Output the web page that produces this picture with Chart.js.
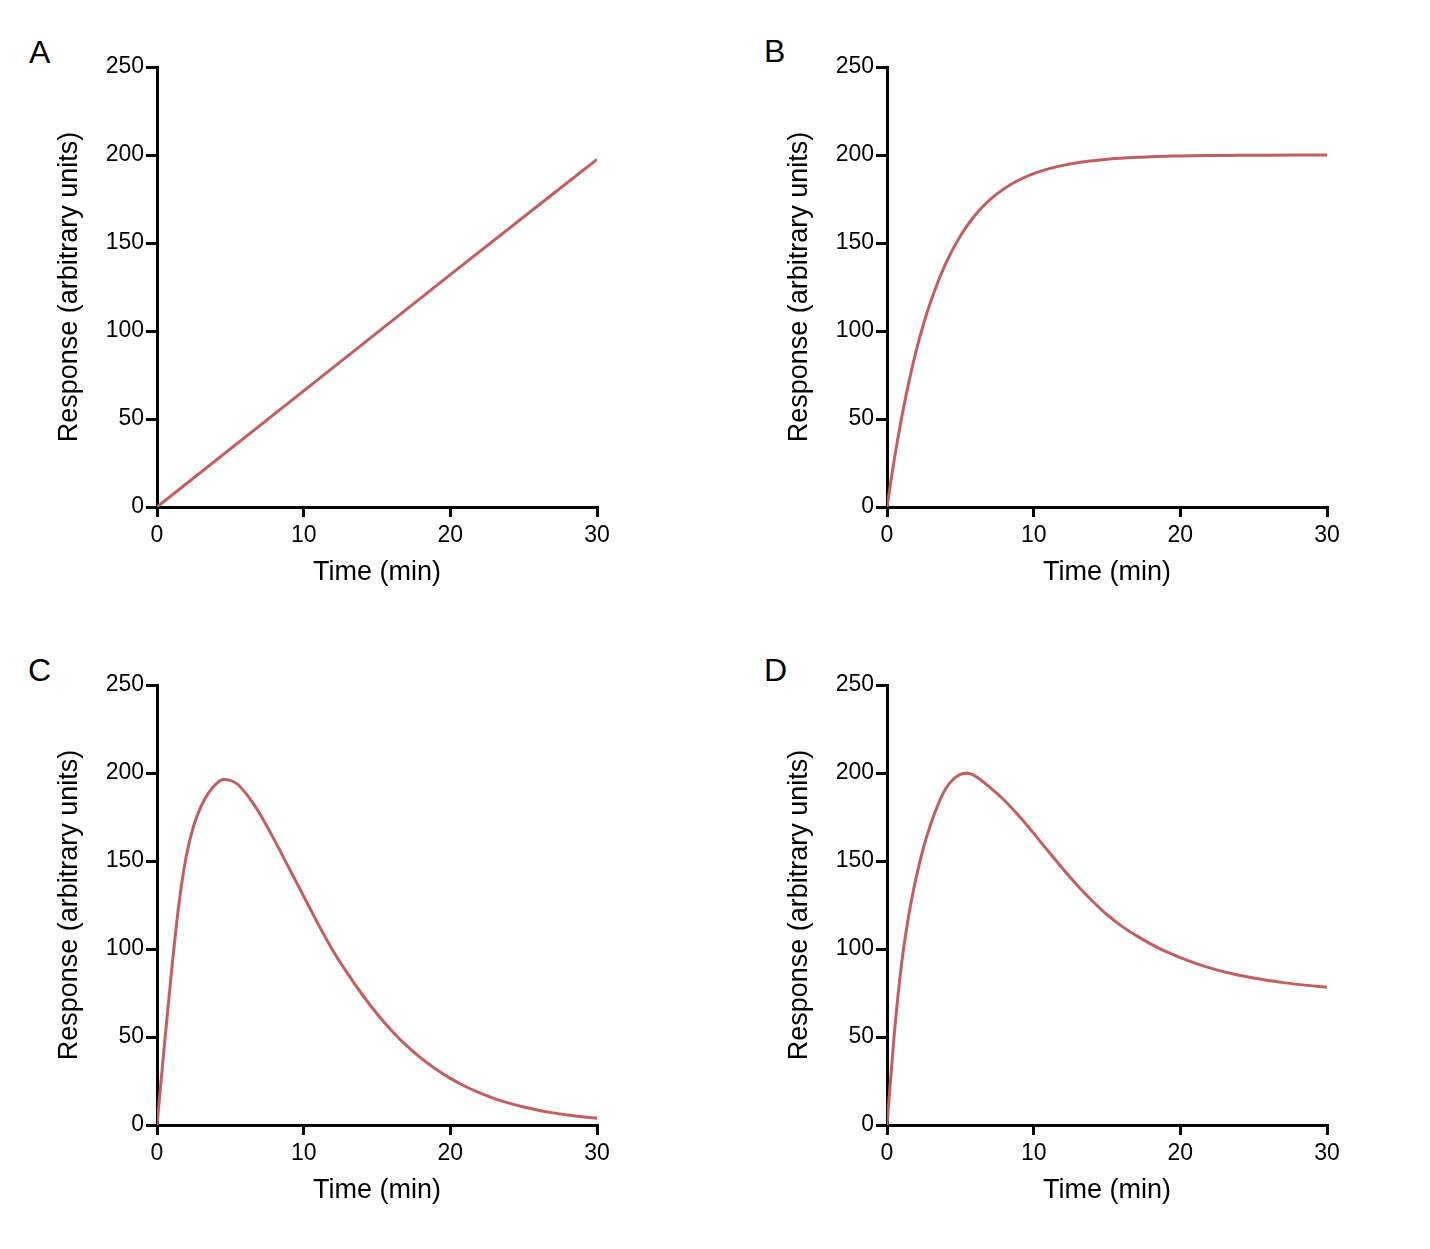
<!DOCTYPE html>
<html><head><meta charset="utf-8">
<script src="https://cdn.jsdelivr.net/npm/chart.js@4.4.1/dist/chart.umd.min.js"></script>
<style>
html,body{margin:0;padding:0;background:#fff;}
body{width:1430px;height:1249px;position:relative;overflow:hidden;font-family:"Liberation Sans",Arial,sans-serif;}
canvas{position:absolute;}
.lbl{position:absolute;font-size:32px;line-height:32px;color:#000;}
</style></head><body>
<div class="lbl" style="left:29px;top:36px;">A</div>
<div class="lbl" style="left:764px;top:35px;">B</div>
<div class="lbl" style="left:28px;top:654px;">C</div>
<div class="lbl" style="left:764px;top:654px;">D</div>
<canvas id="cA" width="715" height="620" style="left:0px;top:0px;width:715px;height:620px;"></canvas>
<canvas id="cB" width="715" height="620" style="left:730px;top:0px;width:715px;height:620px;"></canvas>
<canvas id="cC" width="715" height="620" style="left:0px;top:618px;width:715px;height:620px;"></canvas>
<canvas id="cD" width="715" height="620" style="left:730px;top:618px;width:715px;height:620px;"></canvas>
<script>
// ---- data ----
const xTicks = [0, 10, 20, 30];
const yTicks = [0, 50, 100, 150, 200, 250];
const xTitle = 'Time (min)';
const yTitle = 'Response (arbitrary units)';

const timeA = [0, 10, 20, 30];
const responseA = [0, 66, 132, 197.5];

const timeB = [0, 0.5, 1, 1.5, 2, 2.5, 3, 4, 5, 6, 7, 8, 9, 10, 11, 12, 13, 14, 15, 16, 17, 18, 19, 20, 22, 24, 26, 28, 30];
const responseB = [0, 27.2, 50.9, 71.4, 89.1, 104.2, 117.2, 138.3, 154.0, 165.8, 174.5, 181.0, 185.8, 189.4, 192.1, 194.1, 195.6, 196.7, 197.6, 198.2, 198.7, 199.0, 199.3, 199.4, 199.7, 199.8, 199.9, 199.95, 200];

const timeC = [0, 0.5, 1, 1.5, 2, 2.5, 3, 3.5, 4, 4.5, 5, 5.5, 6, 6.5, 7, 8, 9, 10, 11, 12, 13, 14, 15, 16, 17, 18, 19, 20, 21, 22, 23, 24, 25, 26, 27, 28, 29, 30];
const responseC = [0, 45, 88, 126, 153, 170, 181, 188.5, 193.5, 196.3, 195.8, 193.5, 189, 183.5, 177, 162, 146, 130, 114, 99, 86, 74, 63.2, 53.6, 45.2, 38, 31.8, 26.5, 22, 18.2, 15, 12.4, 10.2, 8.4, 6.9, 5.7, 4.7, 3.9];

const timeD = [0, 0.5, 1, 1.5, 2, 2.5, 3, 3.5, 4, 4.5, 5, 5.5, 6, 7, 8, 9, 10, 11, 12, 13, 14, 15, 16, 17, 18, 19, 20, 21, 22, 23, 24, 25, 26, 27, 28, 29, 30];
const responseD = [0, 52, 92, 120, 141, 158, 171.5, 182.5, 191, 196.3, 199.2, 199.8, 198.3, 192, 184.5, 175.5, 165.7, 155.5, 145.5, 136, 127.3, 119.5, 113, 107.6, 102.8, 98.6, 95.1, 92, 89.3, 87, 85.1, 83.5, 82.1, 80.9, 79.9, 79.05, 78.3];

// ---- styling ----
const LINE_COLOR = '#c45e5e';
Chart.defaults.font.family = "'Liberation Sans', Arial, sans-serif";
Chart.defaults.color = '#000';

function makeChart(id, xs, ys) {
  const pts = xs.map((x, i) => ({x: x, y: ys[i]}));
  return new Chart(document.getElementById(id), {
    type: 'line',
    data: { datasets: [{ data: pts, borderColor: LINE_COLOR, borderWidth: 3, pointRadius: 0, fill: false, cubicInterpolationMode: 'monotone' }] },
    options: {
      responsive: false, animation: false, devicePixelRatio: 1,
      layout: { padding: { top: 67, right: 118, bottom: 0, left: 0 } },
      plugins: { legend: { display: false }, tooltip: { enabled: false } },
      scales: {
        x: {
          type: 'linear', min: xTicks[0], max: xTicks[xTicks.length - 1],
          afterBuildTicks: s => { s.ticks = xTicks.map(v => ({value: v})); },
          afterFit: s => { s.height = 113; },
          ticks: { font: { size: 23 }, color: '#000', padding: 5, maxRotation: 0 },
          grid: { drawOnChartArea: false, drawTicks: true, tickLength: 10, tickWidth: 3, tickColor: '#000', lineWidth: 3, color: '#000' },
          border: { display: true, color: '#000', width: 3 },
          title: { display: true, text: xTitle, font: { size: 27 }, color: '#000', padding: { top: 0, bottom: 31 } }
        },
        y: {
          type: 'linear', min: yTicks[0], max: yTicks[yTicks.length - 1],
          afterBuildTicks: s => { s.ticks = yTicks.map(v => ({value: v})); },
          afterFit: s => { s.width = 157; },
          ticks: { font: { size: 23 }, color: '#000', padding: 2 },
          grid: { drawOnChartArea: false, drawTicks: true, tickLength: 11, tickWidth: 3, tickColor: '#000', lineWidth: 3, color: '#000' },
          border: { display: true, color: '#000', width: 3 },
          title: { display: true, text: yTitle, font: { size: 27 }, color: '#000', padding: { top: 53, bottom: 0 } }
        }
      }
    }
  });
}

makeChart('cA', timeA, responseA);
makeChart('cB', timeB, responseB);
makeChart('cC', timeC, responseC);
makeChart('cD', timeD, responseD);
</script>
</body></html>
